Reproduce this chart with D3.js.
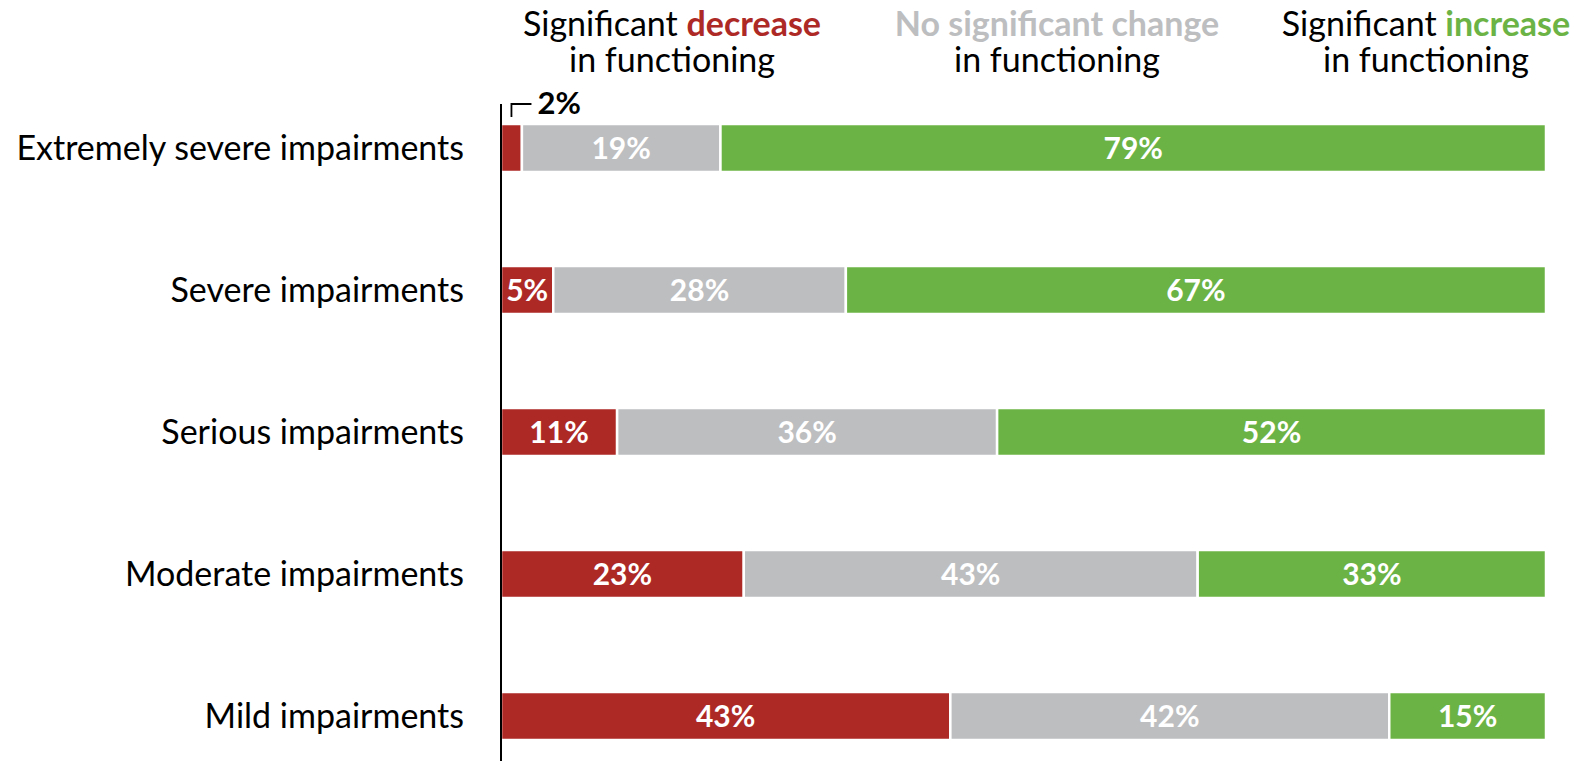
<!DOCTYPE html>
<html>
<head>
<meta charset="utf-8">
<script src="https://cdn.jsdelivr.net/npm/d3@7"></script>
<style>
  html, body { margin: 0; padding: 0; background: #fff; }
  svg { display: block; font-family: Lato, "Open Sans", sans-serif; }
</style>
</head>
<body>
<svg id="chart" width="1591" height="761"></svg>
<script>
// Share of people whose functioning changed, by impairment severity
const categories = [
  "Extremely severe impairments",
  "Severe impairments",
  "Serious impairments",
  "Moderate impairments",
  "Mild impairments"
];
const decrease = [2, 5, 11, 23, 43];
const noChange = [19, 28, 36, 43, 42];
const increase = [79, 67, 52, 33, 15];

const seriesKeys = ["decrease", "noChange", "increase"];
const colors = { decrease: "#AD2926", noChange: "#BDBEC0", increase: "#6CB345" };

const rows = categories.map((c, i) => ({
  category: c,
  decrease: decrease[i],
  noChange: noChange[i],
  increase: increase[i]
}));

const svg = d3.select("#chart");
const fontSize = 34;
const valueSize = 30;

const x = d3.scaleLinear().domain([0, 1]).range([501, 1546]);
const y = d3.scaleBand().domain(categories).range([77, 787])
  .paddingInner(0.662).paddingOuter(0.331);

// Each row is drawn as share of its own total so every bar spans full width
const stacked = rows.map(r => {
  const total = d3.sum(seriesKeys, k => r[k]);
  let acc = 0;
  return seriesKeys.map(k => {
    const seg = { key: k, value: r[k], category: r.category, x0: acc / total, x1: (acc + r[k]) / total };
    acc += r[k];
    return seg;
  });
});

const rowG = svg.selectAll("g.row").data(stacked).join("g").attr("class", "row");

rowG.selectAll("rect").data(d => d).join("rect")
  .attr("x", d => x(d.x0))
  .attr("y", d => y(d.category))
  .attr("width", d => x(d.x1) - x(d.x0))
  .attr("height", y.bandwidth())
  .attr("fill", d => colors[d.key])
  .attr("stroke", "#fff")
  .attr("stroke-width", 2.5);

rowG.selectAll("text").data(d => d.filter(s => s.value >= 5)).join("text")
  .attr("x", d => (x(d.x0) + x(d.x1)) / 2)
  .attr("y", d => y(d.category) + y.bandwidth() / 2)
  .attr("dy", "0.36em")
  .attr("text-anchor", "middle")
  .attr("fill", "#fff")
  .attr("font-weight", 700)
  .attr("font-size", valueSize)
  .text(d => d.value + "%");

// Small segment label placed above its bar with a bracket
stacked.forEach(segs => {
  segs.filter(s => s.value < 5).forEach(s => {
    const cx = (x(s.x0) + x(s.x1)) / 2;
    const top = y(s.category);
    svg.append("path")
      .attr("d", `M${cx},${top - 7} V${top - 20} H${cx + 20}`)
      .attr("fill", "none")
      .attr("stroke", "#000")
      .attr("stroke-width", 1.8);
    svg.append("text")
      .attr("x", cx + 26)
      .attr("y", top - 10)
      .attr("font-weight", 700)
      .attr("font-size", 31)
      .attr("fill", "#000")
      .text(s.value + "%");
  });
});

// Category labels
svg.selectAll("text.cat").data(categories).join("text")
  .attr("class", "cat")
  .attr("x", 464)
  .attr("y", d => y(d) + y.bandwidth() / 2)
  .attr("dy", "0.36em")
  .attr("text-anchor", "end")
  .attr("font-size", fontSize)
  .attr("fill", "#000")
  .text(d => d);

// Vertical baseline axis
svg.append("line")
  .attr("x1", x(0)).attr("x2", x(0))
  .attr("y1", 104).attr("y2", 761)
  .attr("stroke", "#000").attr("stroke-width", 2);

// Column headers
const headers = [
  { cx: 672, parts: [["Significant ", "#000", 400], ["decrease", colors.decrease, 700]] },
  { cx: 1057, parts: [["No significant change", colors.noChange, 700]] },
  { cx: 1426, parts: [["Significant ", "#000", 400], ["increase", colors.increase, 700]] }
];
headers.forEach(h => {
  const t1 = svg.append("text")
    .attr("x", h.cx).attr("y", 36)
    .attr("text-anchor", "middle")
    .attr("font-size", fontSize);
  h.parts.forEach(p => t1.append("tspan").attr("fill", p[1]).attr("font-weight", p[2]).text(p[0]));
  svg.append("text")
    .attr("x", h.cx).attr("y", 72)
    .attr("text-anchor", "middle")
    .attr("font-size", fontSize)
    .attr("fill", "#000")
    .text("in functioning");
});
</script>
</body>
</html>
